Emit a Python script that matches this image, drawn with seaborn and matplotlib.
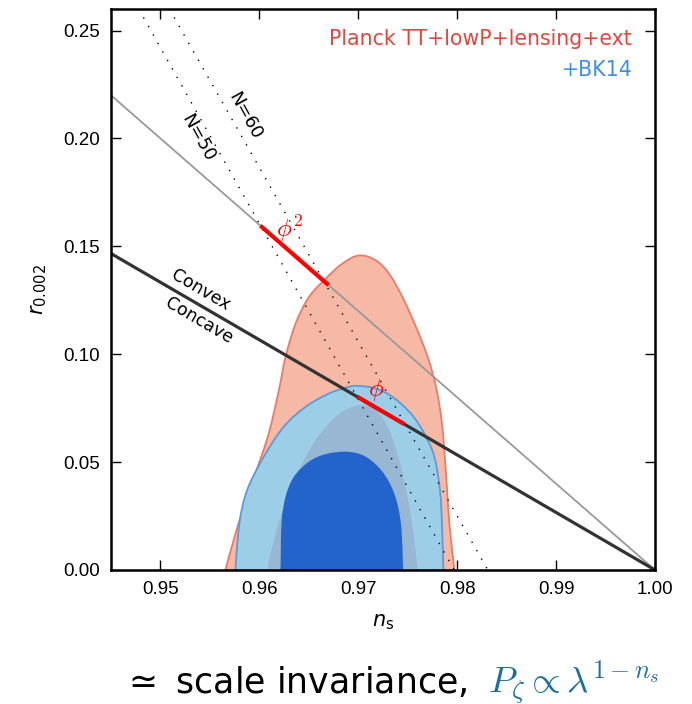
import numpy as np
import pandas as pd
import matplotlib
matplotlib.use("Agg")
import matplotlib.pyplot as plt
from matplotlib.path import Path
from matplotlib.patches import PathPatch
import seaborn as sns

# ---------------- data ----------------
# Planck TT+lowP+lensing+ext, 95% region
red95_ns = [0.95656, 0.9574, 0.95842, 0.9596, 0.96095, 0.96197, 0.96265, 0.96366, 0.96501, 0.9667,
            0.96839, 0.97008, 0.97177, 0.97312, 0.97447, 0.97583, 0.97701, 0.97786, 0.97846,
            0.97887, 0.97921, 0.97972]
red95_r = [0.0, 0.0139, 0.0293, 0.0448, 0.0633, 0.0833, 0.0988, 0.1142, 0.1265, 0.1350,
           0.1420, 0.1458, 0.1435, 0.1373, 0.1265, 0.1127, 0.0988, 0.0849, 0.0679,
           0.0448, 0.0216, 0.0]
# +BK14, 95% region
blue95_ns = [0.95757, 0.95798, 0.95876, 0.96045, 0.96247, 0.96467, 0.96704, 0.96907, 0.97008,
             0.97177, 0.97346, 0.97532, 0.97667, 0.97769, 0.97826, 0.97846, 0.97860]
blue95_r = [0.0, 0.0216, 0.0370, 0.0525, 0.0664, 0.0756, 0.0818, 0.0849, 0.0853,
            0.0841, 0.0802, 0.0725, 0.0633, 0.0525, 0.0370, 0.0216, 0.0]
# Planck 68% region (seen through BK14 95%)
red68_ns = [0.96078, 0.96146, 0.96247, 0.96382, 0.96569, 0.96772, 0.9694, 0.97042,
            0.97177, 0.97312, 0.97431, 0.97515, 0.97566, 0.97600]
red68_r = [0.0, 0.0139, 0.0293, 0.0448, 0.0602, 0.0710, 0.0756, 0.0764,
           0.0741, 0.0648, 0.0478, 0.0293, 0.0139, 0.0]
# +BK14, 68% region
blue68_ns = [0.96214, 0.96224, 0.96265, 0.96349, 0.96501, 0.9667, 0.96890,
             0.97076, 0.97245, 0.97363, 0.97431, 0.97454]
blue68_r = [0.0, 0.0216, 0.0340, 0.0432, 0.0502, 0.0537, 0.0548,
            0.0525, 0.0455, 0.0355, 0.0216, 0.0]

# model lines (endpoints)
phi2_line_ns = [0.945, 1.00]
phi2_line_r = [0.22, 0.0]
convex_line_ns = [0.945, 1.00]
convex_line_r = [0.14667, 0.0]
N50_ns = [0.9478, 0.9797]
N50_r = [0.26, 0.0]
N60_ns = [0.9509, 0.9831]
N60_r = [0.26, 0.0]
phi2_seg_ns = [0.9601, 0.9670]
phi2_seg_r = [0.1596, 0.1320]
phi_seg_ns = [0.9699, 0.9747]
phi_seg_r = [0.0803, 0.0675]

xticks = [0.95, 0.96, 0.97, 0.98, 0.99, 1.00]
yticks = [0.00, 0.05, 0.10, 0.15, 0.20, 0.25]

# ---------------- style ----------------
sns.set_style("ticks")
plt.rcParams["font.family"] = ["DejaVu Sans"]
plt.rcParams["mathtext.fontset"] = "dejavusans"
for k in ["text.color", "axes.labelcolor", "xtick.color", "ytick.color", "axes.edgecolor"]:
    plt.rcParams[k] = "black"

fig = plt.figure(figsize=(6.92, 7.04), dpi=100)
ax = fig.add_axes([111 / 692, (704 - 570) / 704, 544 / 692, 561 / 704])
ax.set_xlim(0.945, 1.00)
ax.set_ylim(0.0, 0.26)


def smooth_region(xs, ys, **kw):
    """Draw a region whose boundary passes through the given points as a smooth
    (Catmull-Rom / cubic Bezier) curve, closed along the bottom axis."""
    p = np.column_stack([xs, ys]).astype(float)
    sx, sy = 1 / 0.055, 1 / 0.26 * (561 / 544)
    q = p * [sx, sy]
    n = len(q)
    verts = [tuple(q[0])]
    codes = [Path.MOVETO]
    for i in range(n - 1):
        p0 = q[i - 1] if i > 0 else q[i]
        p1, p2 = q[i], q[i + 1]
        p3 = q[i + 2] if i + 2 < n else q[i + 1]
        c1 = p1 + (p2 - p0) / 6.0
        c2 = p2 - (p3 - p1) / 6.0
        verts += [tuple(c1), tuple(c2), tuple(p2)]
        codes += [Path.CURVE4] * 3
    verts.append(tuple(q[0]))
    codes.append(Path.LINETO)
    verts = np.array(verts) / [sx, sy]
    patch = PathPatch(Path(verts, codes), **kw)
    ax.add_patch(patch)
    return patch


# filled regions
smooth_region(red95_ns, red95_r, facecolor="#f5b9a5", edgecolor="#ea7b68", lw=1.3, zorder=1)
smooth_region(blue95_ns, blue95_r, facecolor="#9ccfe7", edgecolor="#5e9ad9", lw=1.3, zorder=2)
smooth_region(red68_ns, red68_r, facecolor="#98b7d2", edgecolor="none", zorder=3)
smooth_region(blue68_ns, blue68_r, facecolor="#2263cc", edgecolor="none", zorder=4)

# lines
df = pd.DataFrame
sns.lineplot(data=df({"ns": phi2_line_ns, "r": phi2_line_r}), x="ns", y="r", ax=ax,
             color="#999999", lw=1.3, zorder=5, estimator=None, sort=False)
sns.lineplot(data=df({"ns": N50_ns, "r": N50_r}), x="ns", y="r", ax=ax,
             color="black", lw=1.0, linestyle=(0, (1, 6)), zorder=6, estimator=None, sort=False)
sns.lineplot(data=df({"ns": N60_ns, "r": N60_r}), x="ns", y="r", ax=ax,
             color="black", lw=1.0, linestyle=(0, (1, 6)), zorder=6, estimator=None, sort=False)
sns.lineplot(data=df({"ns": convex_line_ns, "r": convex_line_r}), x="ns", y="r", ax=ax,
             color="#333333", lw=2.3, zorder=7, estimator=None, sort=False)
sns.lineplot(data=df({"ns": phi2_seg_ns, "r": phi2_seg_r}), x="ns", y="r", ax=ax,
             color="#ff0000", lw=3.0, zorder=8, estimator=None, sort=False,
             solid_capstyle="butt")
sns.lineplot(data=df({"ns": phi_seg_ns, "r": phi_seg_r}), x="ns", y="r", ax=ax,
             color="#ff0000", lw=3.0, zorder=8, estimator=None, sort=False,
             solid_capstyle="butt")

# annotations
ax.text(0.95385, 0.2000, "N=50", rotation=-61, ha="center", va="center",
        fontsize=13, color="black", zorder=9, rotation_mode="anchor")
ax.text(0.95852, 0.2106, "N=60", rotation=-61, ha="center", va="center",
        fontsize=13, color="black", zorder=9, rotation_mode="anchor")
ax.text(0.95406, 0.1296, "Convex", rotation=-30.3, ha="center", va="center",
        fontsize=12.5, color="black", zorder=9, rotation_mode="anchor")
ax.text(0.95385, 0.1157, "Concave", rotation=-30.3, ha="center", va="center",
        fontsize=12.5, color="black", zorder=9, rotation_mode="anchor")
ax.text(0.96308, 0.1583, r"$\phi^2$", ha="center", va="center",
        fontsize=18, color="#ff0000", zorder=9, math_fontfamily="cm")
ax.text(0.97181, 0.0833, r"$\phi$", ha="center", va="center",
        fontsize=18, color="#ff0000", zorder=9, math_fontfamily="cm")

ax.text(0.958, 0.9465, "Planck TT+lowP+lensing+ext", transform=ax.transAxes,
        ha="right", va="center", fontsize=14.8, color="#e8443a", zorder=9)
ax.text(0.958, 0.891, "+BK14", transform=ax.transAxes,
        ha="right", va="center", fontsize=14.8, color="#3c8fe6", zorder=9)

# axes
ax.set_xticks(xticks)
ax.set_yticks(yticks)
ax.set_xticklabels([f"{v:.2f}" for v in xticks], family="Liberation Sans", fontsize=13.5)
ax.set_yticklabels([f"{v:.2f}" for v in yticks], family="Liberation Sans", fontsize=13.5)
ax.tick_params(direction="in", length=7, width=1.0, top=True, right=True, pad=8,
               color="black", labelcolor="black")
for s in ax.spines.values():
    s.set_linewidth(1.8)
    s.set_color("black")
    s.set_zorder(10)
ax.set_xlabel(r"$n_{\rm s}$", fontsize=15, labelpad=10, color="black")
ax.set_ylabel(r"$r_{0.002}$", fontsize=15, labelpad=10, color="black")

# bottom caption
fig.text(122 / 692, (704 - 693) / 704, r"$\simeq$ scale invariance,", ha="left", va="baseline",
         fontsize=25, color="black")
fig.text(488 / 692, (704 - 692) / 704, r"$P_\zeta \propto \lambda^{1-n_s}$", ha="left",
         va="baseline", fontsize=26.5, color="#1b6fa3", math_fontfamily="cm")

fig.savefig("out.png", dpi=100)
